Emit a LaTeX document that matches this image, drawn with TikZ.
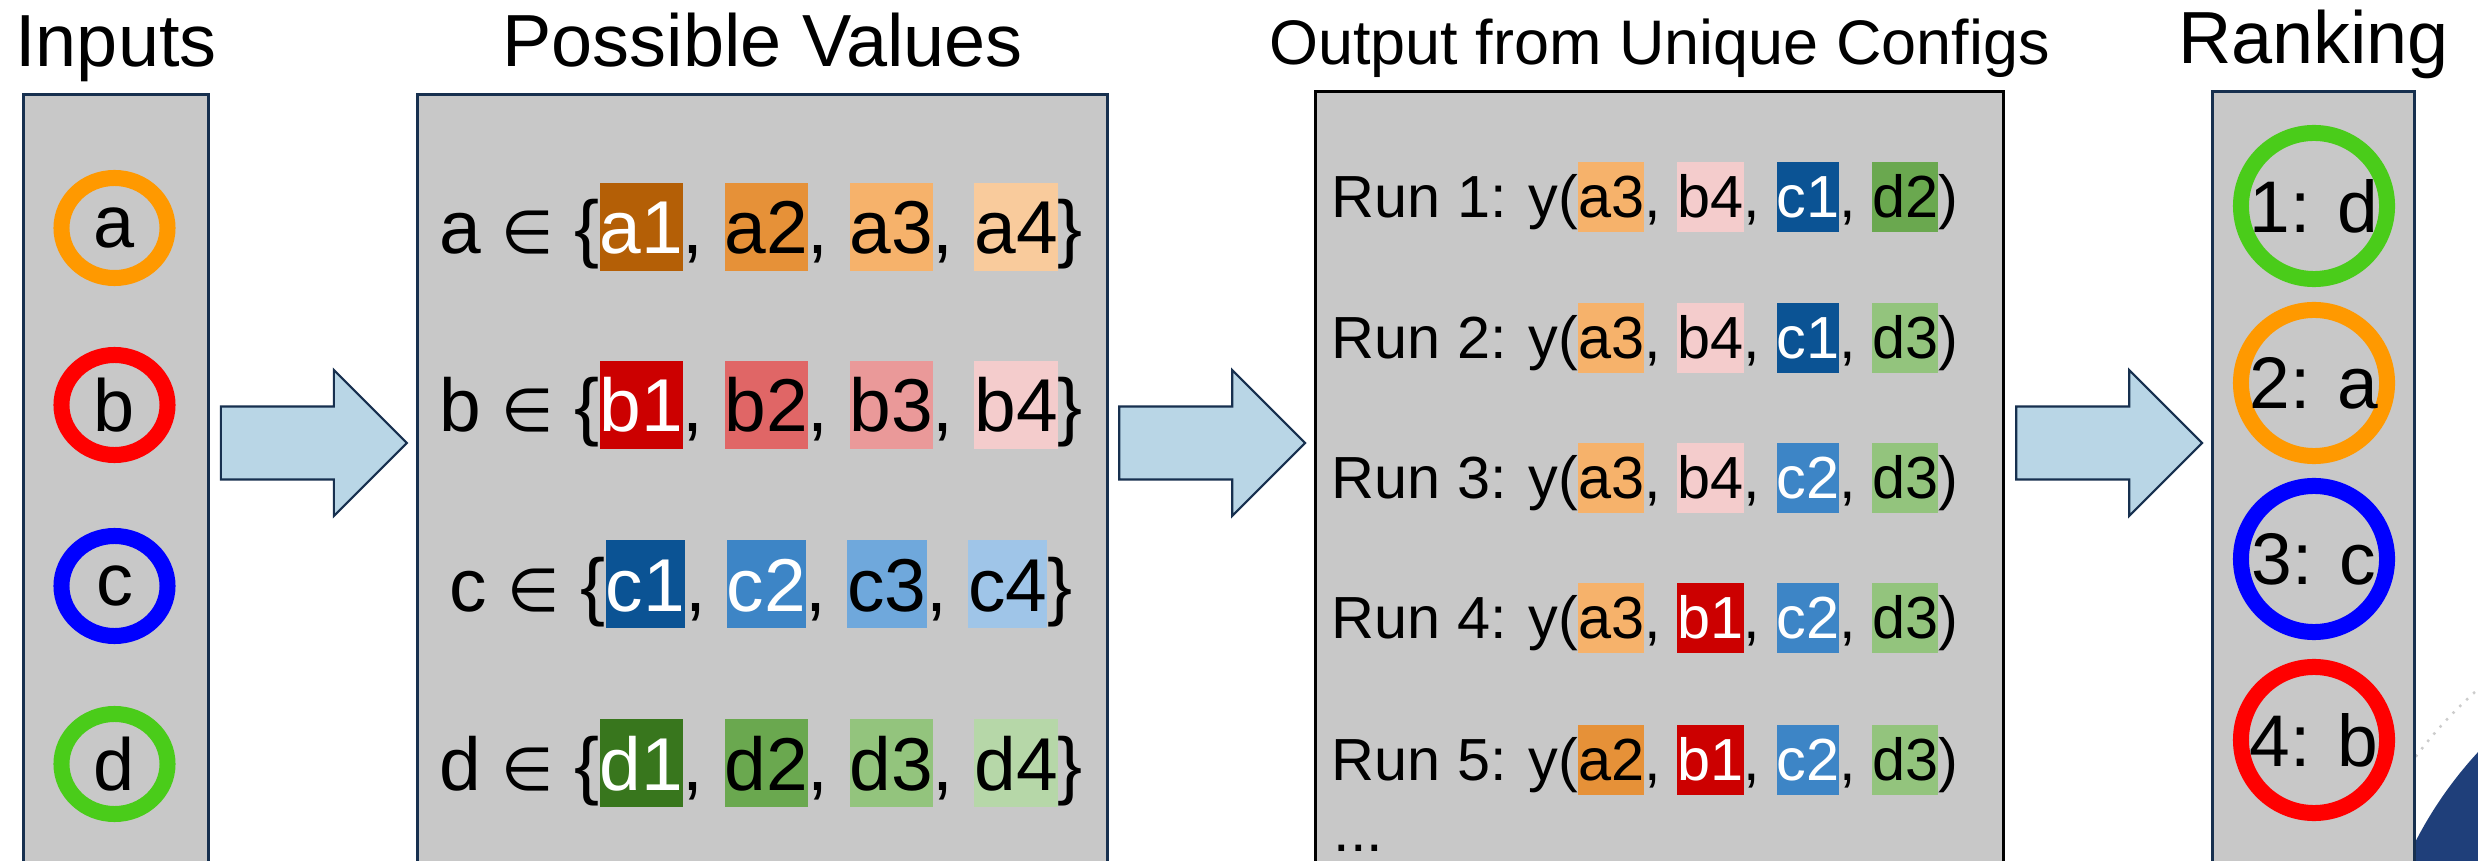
\documentclass[tikz,border=0pt]{standalone}
\usepackage{fontspec}
\setmainfont{Liberation Sans}
\newfontfamily\symbolfont{DejaVu Sans}
\usetikzlibrary{shapes.geometric,calc}

\definecolor{panelgray}{HTML}{C8C8C8}
\definecolor{navy}{HTML}{17304F}
\definecolor{arrowblue}{HTML}{B9D6E6}
\definecolor{logoblue}{HTML}{1F3F7A}
\definecolor{ringorange}{HTML}{FF9900}
\definecolor{ringred}{HTML}{FF0000}
\definecolor{ringblue}{HTML}{0000FF}
\definecolor{ringgreen}{HTML}{4ACC1A}
% colours of the values
\definecolor{a1}{HTML}{B45F06}
\definecolor{a2}{HTML}{E69138}
\definecolor{a3}{HTML}{F6B26B}
\definecolor{a4}{HTML}{F9CB9C}
\definecolor{b1}{HTML}{CC0000}
\definecolor{b2}{HTML}{E06666}
\definecolor{b3}{HTML}{EA9999}
\definecolor{b4}{HTML}{F4CCCC}
\definecolor{c1}{HTML}{0B5394}
\definecolor{c2}{HTML}{3D85C6}
\definecolor{c3}{HTML}{6FA8DC}
\definecolor{c4}{HTML}{9FC5E8}
\definecolor{d1}{HTML}{38761D}
\definecolor{d2}{HTML}{6AA84F}
\definecolor{d3}{HTML}{93C47D}
\definecolor{d4}{HTML}{B6D7A8}

\setlength{\fboxsep}{0pt}
\newcommand{\chip}[2]{\colorbox{#1}{\rule[-0.23em]{0pt}{1.18em}#2}}
\newcommand{\vlight}[1]{\chip{#1}{#1}}
\newcommand{\vdark}[1]{\chip{#1}{\textcolor{white}{#1}}}
\newcommand{\isin}{{\symbolfont\scalebox{0.8}{∈}}}
\newcommand{\blockarrow}[1]{%
  \draw[bigarrow] (#1) ++(0,-36.5) -- ++(113,0) -- ++(0,-36.5) -- ++(73,73)
    -- ++(-73,73) -- ++(0,-36.5) -- ++(-113,0) -- cycle;}

\tikzset{
  panel/.style    = {draw=navy, line width=0.8pt, fill=panelgray,
                     anchor=north west, inner sep=0pt, minimum height=8cm},
  heading/.style  = {anchor=base, inner sep=0pt, font=\fontsize{21}{25}\selectfont},
  ring/.style     = {ellipse, line width=0.16cm, inner sep=0pt,
                     font=\fontsize{21}{25}\selectfont},
  valrow/.style   = {anchor=base, inner sep=0pt, font=\fontsize{21.3}{26}\selectfont},
  runrow/.style   = {anchor=base west, inner sep=0pt, font=\fontsize{16.9}{20}\selectfont},
  bigarrow/.style = {draw=navy, line width=0.6pt, fill=arrowblue, line join=miter}
}

\begin{document}
\begin{tikzpicture}[x=0.01cm, y=-0.01cm]
 \clip (0,0) rectangle (2478,861);
 \coordinate (mid) at (0,443);
 \coordinate (titleline) at (0,67);

 % logo in the corner
 \fill[logoblue] (2775,1026) circle (404);
 \draw[gray!40, dotted, line width=0.7pt] (2775,1026) circle (449);

 % panels
 \node[panel, minimum width=1.85cm] (inputs) at (22,93) {};
 \node[panel, minimum width=6.90cm] (values) at (416,93) {};
 \node[panel, minimum width=6.88cm, draw=black] (configs) at (1314,90) {};
 \node[panel, minimum width=2.02cm] (ranking) at (2211,90) {};

 \node[heading] (inputs title) at (inputs.north |- titleline) {Inputs};
 \node[heading] (values title) at (values.north |- titleline) {Possible Values};
 \node[heading, font=\fontsize{17.9}{21}\selectfont] (configs title)
      at ($(configs.north |- titleline)+(0,-2)$) {Output from Unique Configs};
 \node[heading] (ranking title) at ($(ranking.north |- titleline)+(0,-3)$) {Ranking};

 % inputs
 \foreach \y/\lbl/\col in {228/a/ringorange, 405/b/ringred, 586/c/ringblue, 764/d/ringgreen}
   \node[ring, draw=\col, minimum width=1.06cm, minimum height=1.0cm] (in-\lbl) at (114.5,\y) {\lbl};

 % possible values
 \node[valrow] (row-a) at (761,254) {a \isin\ \{\vdark{a1}, \vlight{a2}, \vlight{a3}, \vlight{a4}\}};
 \node[valrow] (row-b) at (761,432) {b \isin\ \{\vdark{b1}, \vlight{b2}, \vlight{b3}, \vlight{b4}\}};
 \node[valrow] (row-c) at (761,611) {c \isin\ \{\vdark{c1}, \vdark{c2}, \vlight{c3}, \vlight{c4}\}};
 \node[valrow] (row-d) at (761,790) {d \isin\ \{\vdark{d1}, \vlight{d2}, \vlight{d3}, \vlight{d4}\}};

 % runs
 \node[runrow] (run1) at (1331,218) {Run 1: y(\vlight{a3}, \vlight{b4}, \vdark{c1}, \vlight{d2})};
 \node[runrow] (run2) at (1331,359) {Run 2: y(\vlight{a3}, \vlight{b4}, \vdark{c1}, \vlight{d3})};
 \node[runrow] (run3) at (1331,499) {Run 3: y(\vlight{a3}, \vlight{b4}, \vdark{c2}, \vlight{d3})};
 \node[runrow] (run4) at (1331,639) {Run 4: y(\vlight{a3}, \vdark{b1}, \vdark{c2}, \vlight{d3})};
 \node[runrow] (run5) at (1331,781) {Run 5: y(\vlight{a2}, \vdark{b1}, \vdark{c2}, \vlight{d3})};
 \node[runrow] (more) at (1333,851) {...};

 % ranking
 \foreach \y/\txt/\col/\n in {206/1: d/ringgreen/1, 383/2: a/ringorange/2,
                              559/3: c/ringblue/3, 740/4: b/ringred/4}{
   \node[ring, draw=\col, minimum width=1.46cm, minimum height=1.46cm] (rank-\n) at (2314,\y) {};
   \node[font=\fontsize{20.8}{25}\selectfont, inner sep=0pt] (rank-\n-text) at (rank-\n) {\txt};
 }

 % arrows between the panels
 \blockarrow{$(inputs.north east |- mid)+(11,0)$}
 \blockarrow{$(values.north east |- mid)+(10,0)$}
 \blockarrow{$(configs.north east |- mid)+(11,0)$}
\end{tikzpicture}
\end{document}
